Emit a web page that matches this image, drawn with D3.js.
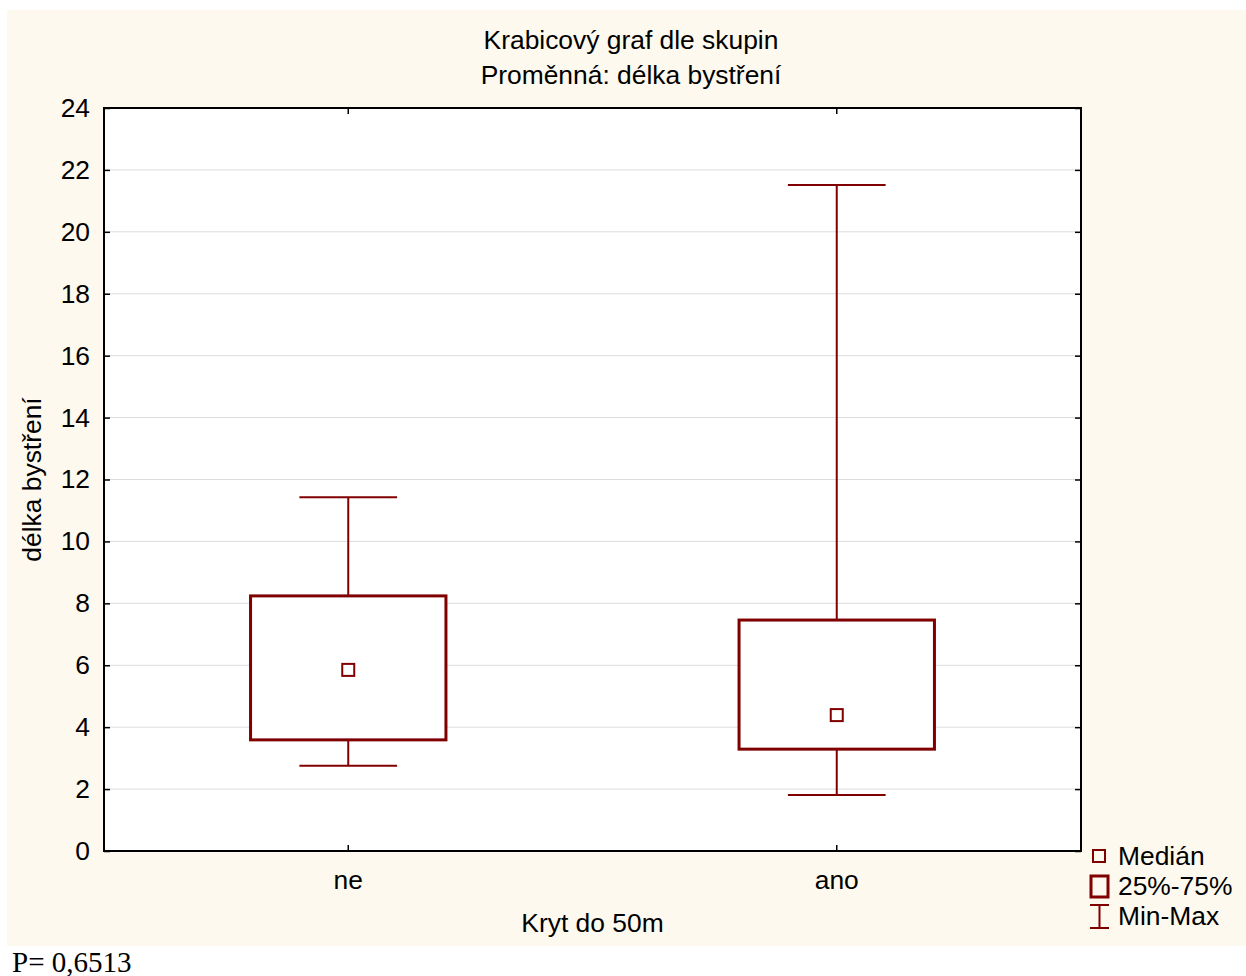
<!DOCTYPE html>
<html>
<head>
<meta charset="utf-8">
<script src="https://cdn.jsdelivr.net/npm/d3@7"></script>
<style>
  body { margin: 0; background: #fff; }
  svg { display: block; font-family: "Liberation Sans", Arial, sans-serif; }
</style>
</head>
<body>
<svg width="1246" height="976"></svg>
<script>
// Data
const categories = ["ne", "ano"];
const minVals = [2.75, 1.81];
const q1Vals = [3.59, 3.29];
const medianVals = [5.85, 4.39];
const q3Vals = [8.24, 7.46];
const maxVals = [11.43, 21.51];
const yTicks = [0, 2, 4, 6, 8, 10, 12, 14, 16, 18, 20, 22, 24];
const legendItems = ["Medián", "25%-75%", "Min-Max"];

const data = categories.map((c, i) => ({
    cat: c, min: minVals[i], q1: q1Vals[i], med: medianVals[i], q3: q3Vals[i], max: maxVals[i]
}));

const svg = d3.select("svg");
const red = "#800000";
const fs = 26.4;
const margens = { left: 104, right: 165, top: 108, bottom: 125 };
const width = 1246, height = 976;
const innerWidth = width - margens.left - margens.right;
const innerHeight = height - margens.top - margens.bottom;

// Pozadí
svg.append("rect").attr("x", 7).attr("y", 10).attr("width", 1239).attr("height", 936).attr("fill", "#fef9ee");

const g = svg.append("g").attr("transform", `translate(${margens.left},${margens.top})`);

const x = d3.scaleBand().domain(categories).range([0, innerWidth]);
const y = d3.scaleLinear().domain([0, 24]).range([innerHeight, 0]);

g.append("rect").attr("width", innerWidth).attr("height", innerHeight).attr("fill", "#fff");

// Mřížka
g.selectAll(".grid").data(yTicks.slice(1, -1)).enter().append("line")
    .attr("x1", 0).attr("x2", innerWidth)
    .attr("y1", d => y(d)).attr("y2", d => y(d))
    .attr("stroke", "#dcdcdc").attr("stroke-width", 1);

// Osy
const axisStyle = sel => {
    sel.select(".domain").remove();
    sel.selectAll("line").attr("stroke", "#000").attr("stroke-width", 1.5);
    sel.selectAll("text").attr("font-size", fs).attr("fill", "#000").attr("font-family", "Liberation Sans, Arial, sans-serif");
};
g.append("g").call(d3.axisLeft(y).tickValues(yTicks).tickSize(-6).tickPadding(14))
    .call(axisStyle);
g.append("g").attr("transform", `translate(${innerWidth},0)`)
    .call(d3.axisRight(y).tickValues(yTicks).tickSize(-6).tickFormat(""))
    .call(axisStyle);
g.append("g").attr("transform", `translate(0,${innerHeight})`)
    .call(d3.axisBottom(x).tickSize(-6).tickPadding(19))
    .call(axisStyle);
g.append("g").call(d3.axisTop(x).tickSize(-6).tickFormat(""))
    .call(axisStyle);

g.append("rect").attr("width", innerWidth).attr("height", innerHeight)
    .attr("fill", "none").attr("stroke", "#000").attr("stroke-width", 2);

// Krabice
const cx = d => x(d.cat) + x.bandwidth() / 2;
const boxW = x.bandwidth() * 0.4;
const capW = x.bandwidth() * 0.2;
const boxes = g.selectAll(".box").data(data).enter().append("g");

boxes.append("line").attr("x1", cx).attr("x2", cx)
    .attr("y1", d => y(d.max)).attr("y2", d => y(d.q3)).attr("stroke", red).attr("stroke-width", 2);
boxes.append("line").attr("x1", cx).attr("x2", cx)
    .attr("y1", d => y(d.q1)).attr("y2", d => y(d.min)).attr("stroke", red).attr("stroke-width", 2);
boxes.append("line").attr("x1", d => cx(d) - capW / 2).attr("x2", d => cx(d) + capW / 2)
    .attr("y1", d => y(d.max)).attr("y2", d => y(d.max)).attr("stroke", red).attr("stroke-width", 2);
boxes.append("line").attr("x1", d => cx(d) - capW / 2).attr("x2", d => cx(d) + capW / 2)
    .attr("y1", d => y(d.min)).attr("y2", d => y(d.min)).attr("stroke", red).attr("stroke-width", 2);
boxes.append("rect").attr("x", d => cx(d) - boxW / 2).attr("width", boxW)
    .attr("y", d => y(d.q3)).attr("height", d => y(d.q1) - y(d.q3))
    .attr("fill", "#fff").attr("stroke", red).attr("stroke-width", 3);
boxes.append("rect").attr("x", d => cx(d) - 6).attr("y", d => y(d.med) - 6)
    .attr("width", 12).attr("height", 12).attr("fill", "#fff").attr("stroke", red).attr("stroke-width", 2);

// Titulky
svg.append("text").attr("x", 631).attr("y", 49).attr("text-anchor", "middle")
    .attr("font-size", fs).text("Krabicový graf dle skupin");
svg.append("text").attr("x", 631).attr("y", 84).attr("text-anchor", "middle")
    .attr("font-size", fs).text("Proměnná: délka bystření");
svg.append("text").attr("x", margens.left + innerWidth / 2).attr("y", 932).attr("text-anchor", "middle")
    .attr("font-size", fs).text("Kryt do 50m");
svg.append("text").attr("transform", `translate(41,${margens.top + innerHeight / 2}) rotate(-90)`)
    .attr("text-anchor", "middle").attr("font-size", fs).text("délka bystření");

// Legenda
const leg = svg.append("g").attr("transform", "translate(1090,0)");
leg.append("rect").attr("x", 3).attr("y", 850).attr("width", 12).attr("height", 12)
    .attr("fill", "none").attr("stroke", red).attr("stroke-width", 2);
leg.append("rect").attr("x", 1).attr("y", 876).attr("width", 17).attr("height", 21)
    .attr("fill", "none").attr("stroke", red).attr("stroke-width", 3);
leg.append("path").attr("d", "M0,905H19M9.5,905V928M0,928H19")
    .attr("fill", "none").attr("stroke", red).attr("stroke-width", 2);
leg.selectAll(".lt").data(legendItems).enter().append("text")
    .attr("x", 28).attr("y", (d, i) => 865 + i * 30)
    .attr("font-size", fs).text(d => d);

// P hodnota
svg.append("text").attr("x", 12).attr("y", 972)
    .attr("font-family", "Liberation Serif, Times New Roman, serif").attr("font-size", 29)
    .text("P= 0,6513");
</script>
</body>
</html>
